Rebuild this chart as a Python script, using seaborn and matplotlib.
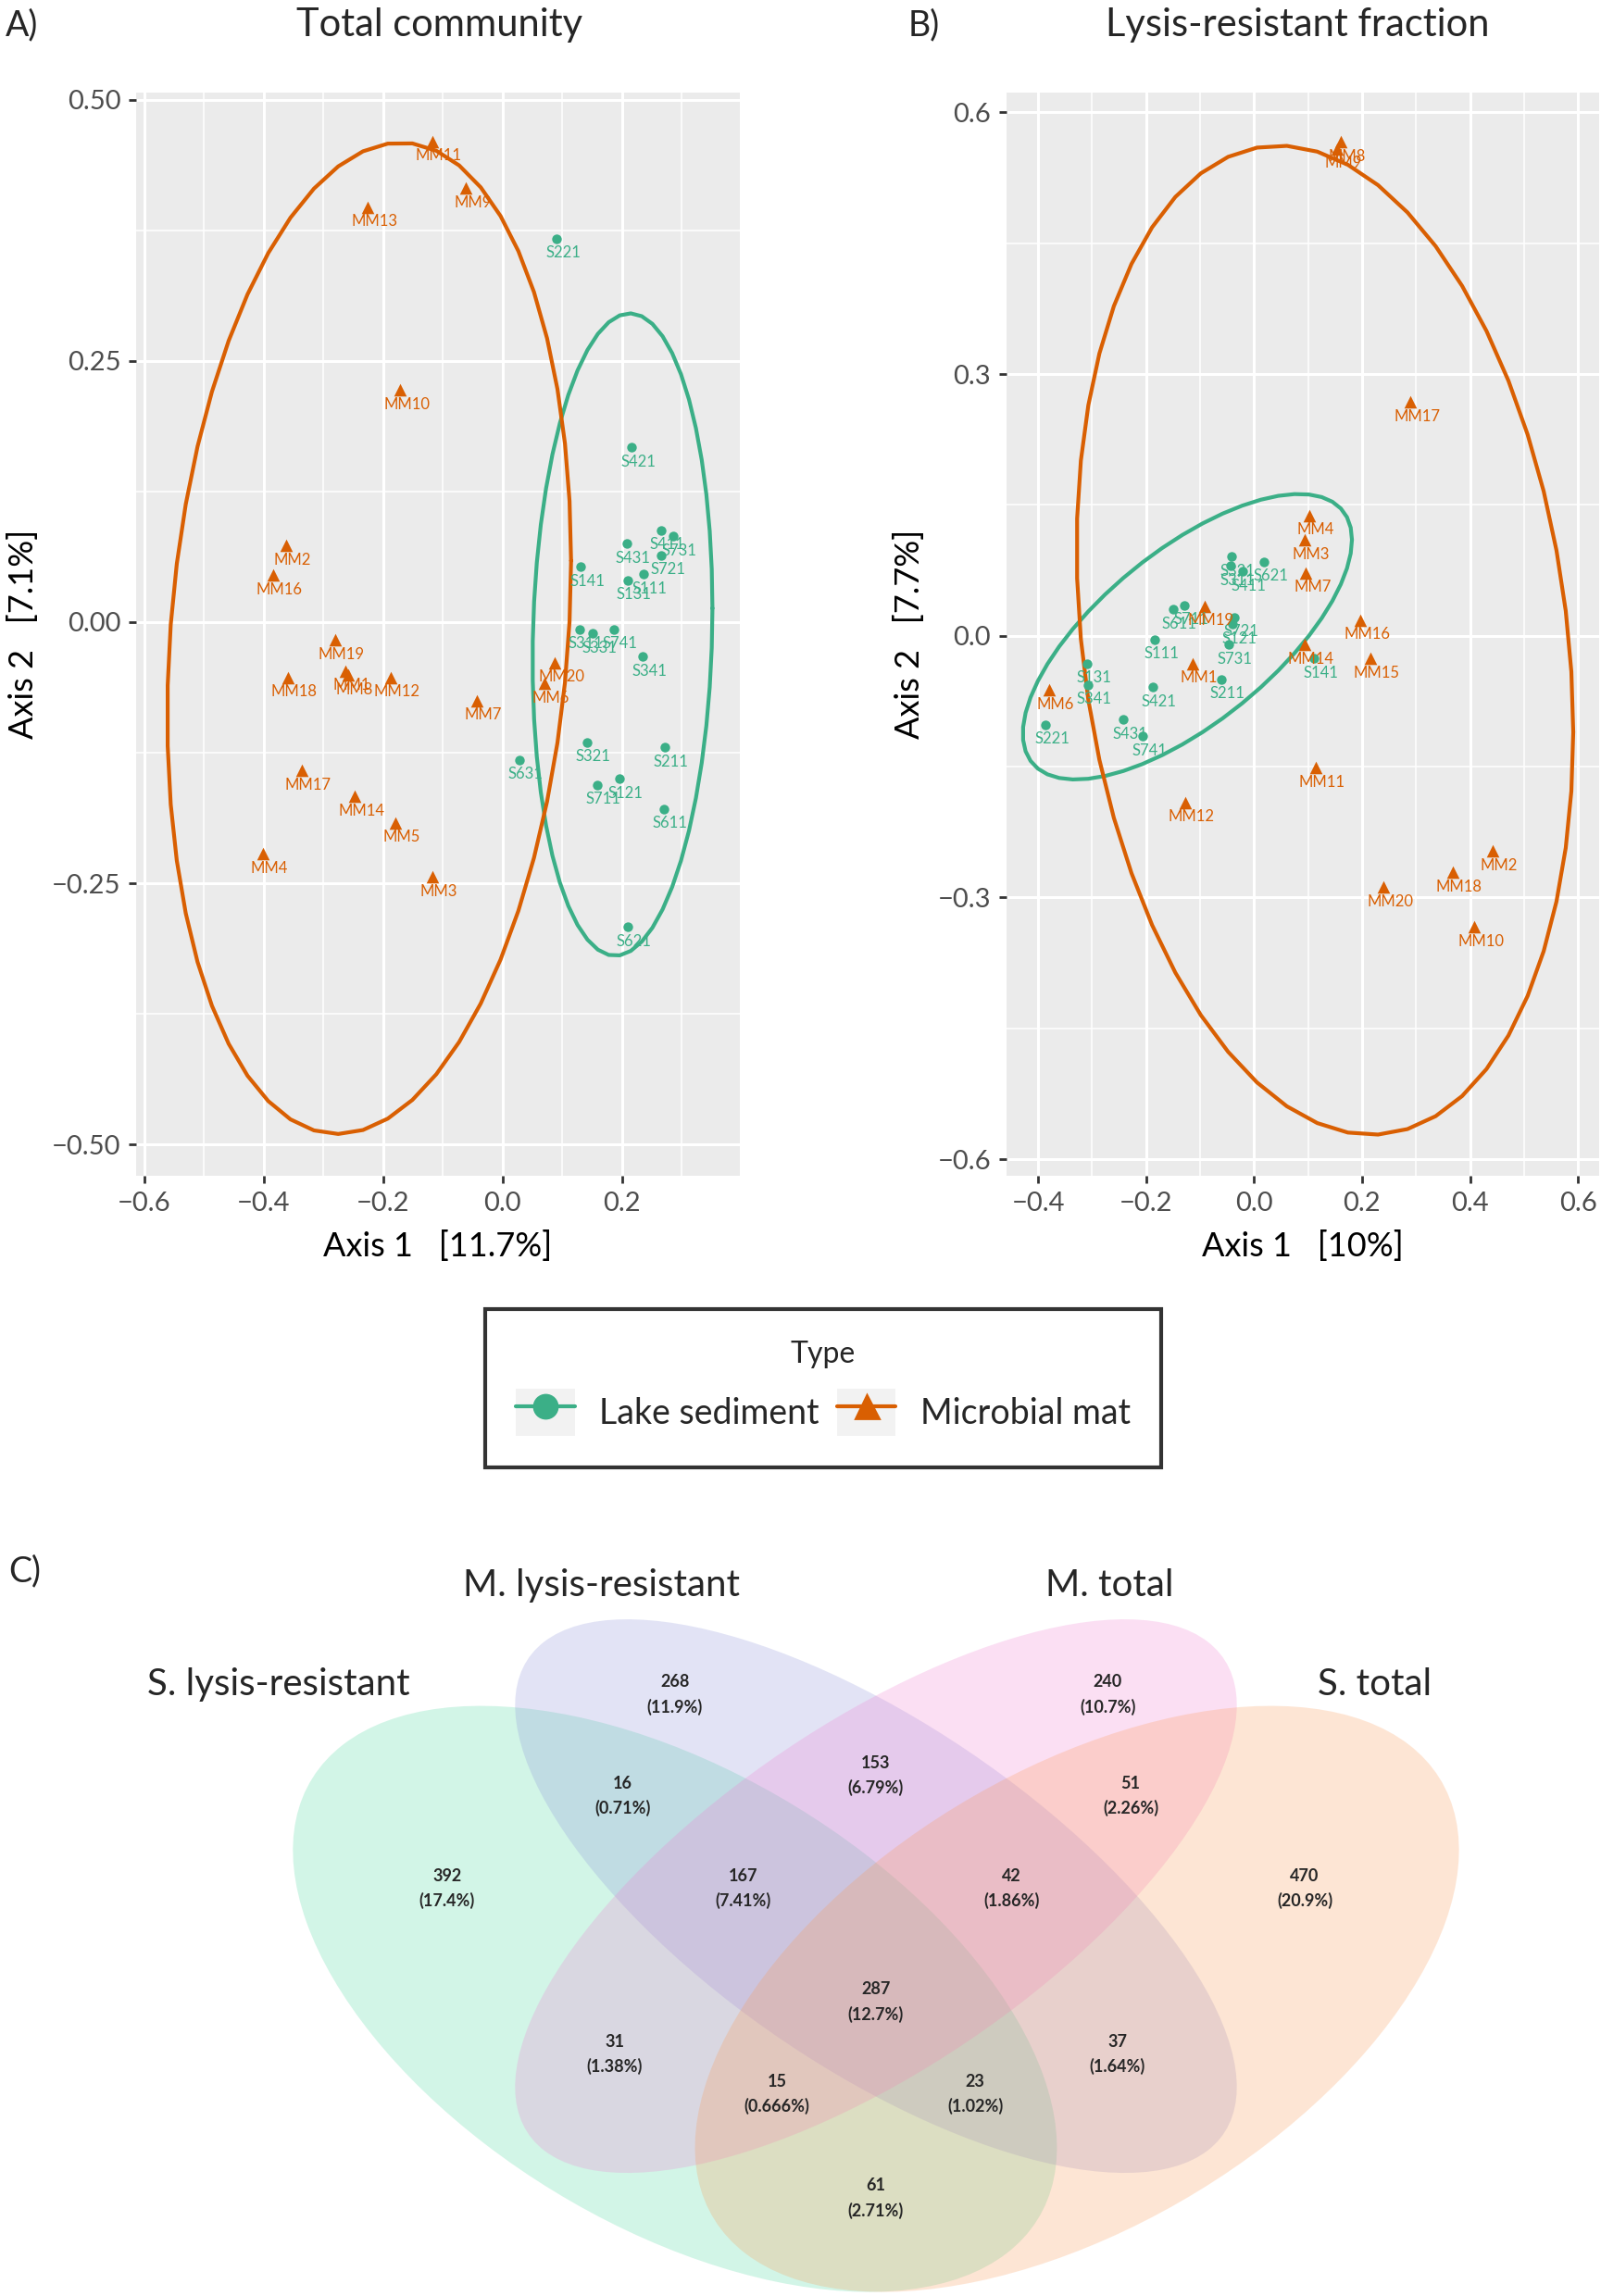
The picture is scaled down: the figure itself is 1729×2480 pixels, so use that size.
import numpy as np
import pandas as pd
import matplotlib
matplotlib.use("Agg")
import matplotlib.pyplot as plt
from matplotlib.lines import Line2D
from matplotlib.patches import Ellipse, Rectangle
from matplotlib.legend_handler import HandlerTuple
from matplotlib.ticker import FuncFormatter
import seaborn as sns

# ---------------- data ----------------
# A) total community, PCoA coordinates
a_sed_ids = ["S221", "S421", "S431", "S411", "S731", "S721", "S141", "S111", "S131", "S311",
             "S331", "S741", "S341", "S321", "S211", "S631", "S711", "S121", "S611", "S621"]
a_sed_x = [0.091, 0.216, 0.208, 0.265, 0.285, 0.266, 0.131, 0.236, 0.209, 0.129,
           0.151, 0.186, 0.235, 0.141, 0.271, 0.028, 0.158, 0.195, 0.270, 0.209]
a_sed_y = [0.367, 0.167, 0.075, 0.088, 0.082, 0.064, 0.053, 0.046, 0.040, -0.007,
           -0.011, -0.007, -0.033, -0.115, -0.120, -0.132, -0.156, -0.150, -0.179, -0.292]

a_mat_ids = ["MM11", "MM9", "MM13", "MM10", "MM2", "MM16", "MM19", "MM18", "MM1", "MM8",
             "MM12", "MM7", "MM20", "MM6", "MM17", "MM14", "MM5", "MM4", "MM3"]
a_mat_x = [-0.118, -0.061, -0.225, -0.171, -0.362, -0.384, -0.280, -0.359, -0.263, -0.259,
           -0.187, -0.043, 0.088, 0.070, -0.336, -0.247, -0.179, -0.401, -0.117]
a_mat_y = [0.460, 0.415, 0.397, 0.222, 0.073, 0.045, -0.017, -0.053, -0.047, -0.051,
           -0.053, -0.075, -0.039, -0.059, -0.142, -0.167, -0.192, -0.222, -0.244]

# B) lysis-resistant fraction
b_sed_ids = ["S321", "S311", "S411", "S621", "S611", "S711", "S721", "S121", "S731", "S111",
             "S211", "S131", "S341", "S421", "S221", "S431", "S741", "S141"]
b_sed_x = [-0.042, -0.043, -0.022, 0.019, -0.150, -0.129, -0.036, -0.040, -0.047, -0.184,
           -0.061, -0.309, -0.308, -0.188, -0.386, -0.242, -0.206, 0.111]
b_sed_y = [0.091, 0.080, 0.074, 0.085, 0.030, 0.035, 0.021, 0.013, -0.010, -0.004,
           -0.050, -0.032, -0.056, -0.059, -0.102, -0.096, -0.115, -0.026]

b_mat_ids = ["MM8", "MM9", "MM17", "MM4", "MM3", "MM7", "MM19", "MM16", "MM14", "MM15",
             "MM1", "MM6", "MM11", "MM12", "MM2", "MM18", "MM20", "MM10"]
b_mat_x = [0.161, 0.153, 0.290, 0.102, 0.094, 0.096, -0.092, 0.197, 0.093, 0.215,
           -0.114, -0.380, 0.114, -0.128, 0.442, 0.368, 0.240, 0.408]
b_mat_y = [0.566, 0.558, 0.268, 0.138, 0.110, 0.072, 0.034, 0.018, -0.010, -0.026,
           -0.032, -0.062, -0.151, -0.191, -0.247, -0.271, -0.288, -0.334]

# C) Venn counts per region
venn_sets = ["S. lysis-resistant", "M. lysis-resistant", "M. total", "S. total"]
venn_regions = ["SL", "ML", "MT", "ST", "SL&ML", "ML&MT", "MT&ST", "SL&ML&MT", "ML&MT&ST",
                "all", "SL&MT", "ML&ST", "SL&MT&ST", "SL&ML&ST", "SL&ST"]
venn_counts = [392, 268, 240, 470, 16, 153, 51, 167, 42, 287, 31, 37, 15, 23, 61]

types = ["Lake sediment", "Microbial mat"]
palette = {"Lake sediment": "#3BAF87", "Microbial mat": "#D95F02"}
markers = {"Lake sediment": "o", "Microbial mat": "^"}
sizes = {"Lake sediment": 14, "Microbial mat": 24}


def make_df(ids_s, xs, ys, ids_m, xm, ym):
    d1 = pd.DataFrame({"id": ids_s, "x": xs, "y": ys, "Type": types[0]})
    d2 = pd.DataFrame({"id": ids_m, "x": xm, "y": ym, "Type": types[1]})
    return pd.concat([d1, d2], ignore_index=True)


df_a = make_df(a_sed_ids, a_sed_x, a_sed_y, a_mat_ids, a_mat_x, a_mat_y)
df_b = make_df(b_sed_ids, b_sed_x, b_sed_y, b_mat_ids, b_mat_x, b_mat_y)


# same as ggplot stat_ellipse (type = "t", level = 0.95)
def t_ellipse(x, y, level=0.95, nu=5, segments=51):
    X = np.column_stack([x, y])
    n, p = X.shape
    wt = np.ones(n)
    loc = X.mean(axis=0)
    w = np.sqrt(wt)
    for _ in range(25):
        w0 = w
        Xc = X - loc
        _, d, vt = np.linalg.svd(np.sqrt(w / w.sum())[:, None] * Xc, full_matrices=False)
        wX = Xc @ vt.T @ np.diag(1 / d)
        Q = (wX ** 2).sum(axis=1)
        w = (wt * (nu + p)) / (nu + Q)
        loc = (w[:, None] * X).sum(axis=0) / w.sum()
        if np.all(np.abs(w - w0) < 0.01):
            break
    sw = np.sqrt(w)[:, None] * Xc
    cov = sw.T @ sw / wt.sum()
    dfd = n - 1
    fq = dfd / 2 * ((1 - level) ** (-2 / dfd) - 1)
    radius = np.sqrt(2 * fq)
    ang = np.arange(segments + 1) * 2 * np.pi / segments
    circle = np.column_stack([np.cos(ang), np.sin(ang)])
    U = np.linalg.cholesky(cov).T
    pts = loc + radius * circle @ U
    return pts[:, 0], pts[:, 1]


def minus_fmt(dec):
    def f(v, pos):
        s = f"{v:.{dec}f}"
        if float(s) == 0:
            s = f"{0:.{dec}f}"
        return s.replace("-", "\u2212")
    return FuncFormatter(f)


sns.set_theme(style="darkgrid")
plt.rcParams["font.family"] = ["Lato", "DejaVu Sans"]

fig = plt.figure(figsize=(8.645, 12.4), dpi=200)
W, H = 1093.0, 1568.0


def draw_pcoa(ax, df, xlim, ylim, xmaj, xmin, ymaj, ymin, ydec, xdec, xlabel, ylabel):
    ax.set_facecolor("#EBEBEB")
    for t in types:
        sub = df[df["Type"] == t]
        ex, ey = t_ellipse(sub["x"].values, sub["y"].values)
        ax.plot(ex, ey, color=palette[t], lw=1.5, zorder=2)
    for t in types:
        sub = df[df["Type"] == t]
        sns.scatterplot(data=sub, x="x", y="y", color=palette[t], marker=markers[t],
                        s=sizes[t], linewidth=0, legend=False, ax=ax, zorder=3)
        for _, r in sub.iterrows():
            ax.annotate(r["id"], (r["x"], r["y"]), xytext=(2.5, -5.6), textcoords="offset points",
                        ha="center", va="center", fontsize=6, color=palette[t], zorder=4)
    ax.set_xlim(xlim)
    ax.set_ylim(ylim)
    ax.set_xticks(xmaj)
    ax.set_xticks(xmin, minor=True)
    ax.set_yticks(ymaj)
    ax.set_yticks(ymin, minor=True)
    ax.xaxis.set_major_formatter(minus_fmt(xdec))
    ax.yaxis.set_major_formatter(minus_fmt(ydec))
    ax.grid(which="major", color="white", lw=1.1)
    ax.grid(which="minor", color="white", lw=0.55)
    ax.set_axisbelow(True)
    for s in ax.spines.values():
        s.set_visible(False)
    ax.tick_params(which="major", length=3, width=1, color="#333333", labelsize=10.5,
                   labelcolor="#4D4D4D", pad=3, bottom=True, left=True)
    ax.tick_params(which="minor", length=0)
    ax.set_xlabel(xlabel, fontsize=13, color="black", labelpad=6)
    ax.set_ylabel(ylabel, fontsize=13, color="black", labelpad=5)


ax_a = fig.add_axes([93 / W, 1 - 803 / H, (505 - 93) / W, (803 - 63) / H])
draw_pcoa(ax_a, df_a, (-0.613, 0.397), (-0.530, 0.507),
          [-0.6, -0.4, -0.2, 0.0, 0.2], np.arange(-0.5, 0.35, 0.2),
          [-0.5, -0.25, 0, 0.25, 0.5], [-0.375, -0.125, 0.125, 0.375], 2, 1,
          "Axis 1   [11.7%]", "Axis 2   [7.1%]")

ax_b = fig.add_axes([687 / W, 1 - 803 / H, (1092 - 687) / W, (803 - 63) / H])
draw_pcoa(ax_b, df_b, (-0.459, 0.640), (-0.619, 0.623),
          [-0.4, -0.2, 0.0, 0.2, 0.4, 0.6], np.arange(-0.3, 0.55, 0.2),
          [-0.6, -0.3, 0, 0.3, 0.6], [-0.45, -0.15, 0.15, 0.45], 1, 1,
          "Axis 1   [10%]", "Axis 2   [7.7%]")

fig.text(300 / W, 1 - 17 / H, "Total community", ha="center", va="center", fontsize=15)
fig.text(886 / W, 1 - 17 / H, "Lysis-resistant fraction", ha="center", va="center", fontsize=15)
fig.text(4 / W, 1 - 17 / H, "A)", ha="left", va="center", fontsize=13.5)
fig.text(620 / W, 1 - 17 / H, "B)", ha="left", va="center", fontsize=13.5)
fig.text(6 / W, 1 - 1073 / H, "C)", ha="left", va="center", fontsize=13.5)

# legend, keys with the grey ggplot key background
handles = []
for t in types:
    bg = Rectangle((0, 0), 1, 1, facecolor="#F2F2F2", edgecolor="none")
    ln = Line2D([0], [0], color=palette[t], marker=markers[t], markersize=9, lw=1.5)
    handles.append((bg, ln))
leg = fig.legend(handles, types, title="Type", loc="center", bbox_to_anchor=(562 / W, 1 - 948 / H),
                 ncol=2, frameon=True, fancybox=False, fontsize=13.5, title_fontsize=11.5,
                 edgecolor="black", facecolor="white", borderpad=0.9, handlelength=1.7,
                 handleheight=1.7, columnspacing=0.5, handletextpad=0.7, labelspacing=0.6,
                 handler_map={tuple: HandlerTuple(ndivide=1, pad=0)})
leg.get_frame().set_linewidth(1.5)

# C) Venn diagram
ax_v = fig.add_axes([0, 0, 1, 1 - 1060 / H])
ax_v.set_xlim(-0.1536, 1.0410)
ax_v.set_ylim(0.181, 0.9046)
ax_v.axis("off")

venn_colors = ["#4FD8A0", "#8C93D9", "#F080D2", "#FB9A55"]
venn_shapes = [((0.35, 0.47), 0.70, 0.40, 135), ((0.50, 0.57), 0.70, 0.30, 135),
               ((0.50, 0.57), 0.70, 0.30, 45), ((0.65, 0.47), 0.70, 0.40, 45)]
for (c, w, h, ang), col in zip(venn_shapes, venn_colors):
    ax_v.add_patch(Ellipse(c, w, h, angle=ang, facecolor=col, alpha=0.25, lw=0))

set_label_pos = [(0.054, 0.776), (0.295, 0.872), (0.674, 0.872), (0.872, 0.776)]
for name, (x, y) in zip(venn_sets, set_label_pos):
    ax_v.text(x, y, name, ha="center", va="center", fontsize=14.5)

region_pos = {"SL": (0.180, 0.577), "ML": (0.350, 0.766), "MT": (0.673, 0.766),
              "ST": (0.820, 0.577), "SL&ML": (0.311, 0.667), "ML&MT": (0.5, 0.687),
              "MT&ST": (0.690, 0.667), "SL&ML&MT": (0.401, 0.577), "ML&MT&ST": (0.601, 0.577),
              "all": (0.5, 0.467), "SL&MT": (0.305, 0.416), "ML&ST": (0.680, 0.416),
              "SL&MT&ST": (0.426, 0.377), "SL&ML&ST": (0.574, 0.377), "SL&ST": (0.5, 0.276)}
total = sum(venn_counts)
for reg, n in zip(venn_regions, venn_counts):
    x, y = region_pos[reg]
    pct = 100 * n / total
    ax_v.text(x, y, f"{n}\n({pct:.3g}%)", ha="center", va="center", fontsize=6.5,
              fontweight="bold", linespacing=1.6)

fig.savefig("out.png", dpi=200)
